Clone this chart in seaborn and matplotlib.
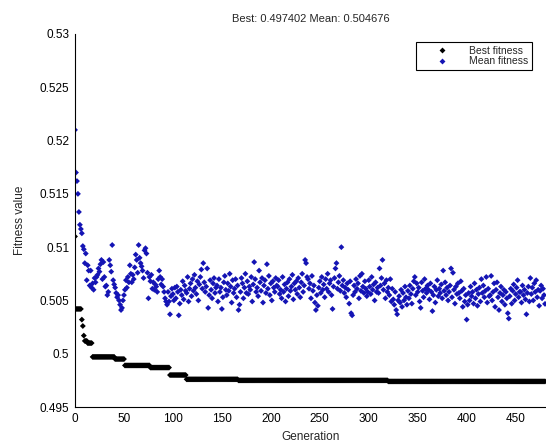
import numpy as np
import pandas as pd
import matplotlib
matplotlib.use("Agg")
import matplotlib.pyplot as plt
import seaborn as sns
from matplotlib.ticker import FuncFormatter

# ---- data ----
best_levels = [0.5110, 0.5042, 0.5032, 0.5026, 0.5017, 0.5012, 0.5010, 0.4997,
               0.4995, 0.4989, 0.4987, 0.4980, 0.4976, 0.4975, 0.497402]
best_runs = [1, 6, 1, 1, 1, 3, 5, 23, 10, 26, 20, 17, 53, 153, 161]

mean_fitness = [
    .5210, .5170, .5162, .5150, .5133, .5121, .5117, .5113, .5101, .5098,
    .5085, .5094, .5069, .5083, .5078, .5064, .5078, .5062, .5066, .5060, .5071,
    .5067, .5072, .5074, .5080, .5077, .5084, .5088, .5070, .5086, .5072,
    .5063, .5064, .5055, .5058, .5088, .5083, .5077, .5102, .5069, .5065,
    .5062, .5057, .5053, .5055, .5050, .5046, .5041, .5043, .5050, .5055, .5060,
    .5069, .5062, .5072, .5067, .5083, .5075, .5067, .5074, .5070, .5081,
    .5093, .5088, .5076, .5102, .5090, .5085, .5082, .5078, .5071, .5097,
    .5099, .5094, .5076, .5052, .5072, .5068, .5074, .5061, .5067, .5060, .5065,
    .5063, .5058, .5070, .5078, .5072, .5065, .5070, .5063, .5058, .5052,
    .5049, .5046, .5058, .5049, .5037, .5054, .5061, .5056, .5050, .5062,
    .5052, .5063, .5058, .5036, .5047, .5060, .5055, .5068, .5051, .5064, .5059,
    .5057, .5072, .5049, .5061, .5066, .5054, .5070, .5059, .5074, .5062,
    .5056, .5068, .5050, .5065, .5072, .5079, .5061, .5085, .5067, .5058,
    .5063, .5080, .5043, .5055, .5069, .5060, .5052, .5066, .5071, .5057, .5062,
    .5064, .5049, .5070, .5058, .5062, .5042, .5053, .5067, .5073, .5060,
    .5055, .5066, .5059, .5075, .5063, .5048, .5069, .5057, .5061, .5070,
    .5053, .5064, .5041, .5046, .5058, .5071, .5066, .5052, .5062, .5075, .5057,
    .5068, .5056, .5063, .5060, .5072, .5049, .5065, .5086, .5070, .5058,
    .5062, .5054, .5078, .5067, .5059, .5071, .5048, .5064, .5069, .5057,
    .5084, .5061, .5073, .5055, .5066, .5050, .5068, .5062, .5058, .5071, .5064,
    .5063, .5069, .5056, .5060, .5052, .5072, .5058, .5065, .5049, .5061,
    .5067, .5054, .5070, .5059, .5063, .5074, .5051, .5066, .5060, .5068,
    .5056, .5071, .5062, .5053, .5067, .5075, .5058, .5064, .5088, .5085, .5072,
    .5070, .5061, .5066, .5052, .5073, .5059, .5064, .5048, .5041, .5055,
    .5045, .5062, .5068, .5057, .5072, .5060, .5065, .5053, .5070, .5061,
    .5075, .5058, .5066, .5069, .5055, .5042, .5063, .5071, .5080, .5085, .5061,
    .5067, .5073, .5059, .5100, .5064, .5069, .5057, .5062, .5053, .5066,
    .5060, .5047, .5068, .5038, .5036, .5055, .5064, .5058, .5070, .5061,
    .5066, .5052, .5073, .5059, .5075, .5063, .5057, .5068, .5061, .5054, .5058,
    .5069, .5063, .5056, .5072, .5060, .5065, .5050, .5067, .5058, .5062,
    .5057, .5080, .5064, .5071, .5088, .5060, .5066, .5052, .5069, .5058,
    .5062, .5055, .5070, .5049, .5061, .5051, .5046, .5058, .5041, .5037, .5050,
    .5054, .5048, .5060, .5044, .5057, .5050, .5063, .5053, .5046, .5059,
    .5052, .5064, .5056, .5047, .5061, .5068, .5072, .5055, .5066, .5058,
    .5062, .5049, .5043, .5067, .5059, .5053, .5070, .5061, .5057, .5064, .5060,
    .5051, .5066, .5058, .5040, .5055, .5063, .5048, .5060, .5069, .5054,
    .5061, .5057, .5065, .5052, .5078, .5059, .5067, .5055, .5062, .5050,
    .5058, .5064, .5080, .5053, .5076, .5060, .5047, .5063, .5056, .5066, .5057,
    .5052, .5068, .5059, .5044, .5061, .5049, .5055, .5032, .5046, .5057,
    .5050, .5063, .5054, .5058, .5047, .5066, .5052, .5060, .5045, .5056,
    .5062, .5049, .5070, .5057, .5064, .5053, .5059, .5072, .5048, .5061, .5054,
    .5055, .5073, .5050, .5058, .5066, .5044, .5060, .5067, .5053, .5041,
    .5057, .5063, .5049, .5055, .5060, .5046, .5058, .5052, .5038, .5033,
    .5054, .5061, .5047, .5059, .5065, .5050, .5056, .5062, .5069, .5053, .5058,
    .5058, .5048, .5064, .5055, .5060, .5051, .5037, .5057, .5063, .5049,
    .5071, .5056, .5062, .5050, .5066, .5058, .5069, .5053, .5060, .5045,
    .5059, .5064, .5052, .5061, .5055, .504676,
]

x_ticks = [0, 50, 100, 150, 200, 250, 300, 350, 400, 450]
y_ticks = [0.495, 0.5, 0.505, 0.51, 0.515, 0.52, 0.525, 0.53]
series_names = ["Best fitness", "Mean fitness"]
title_text = "Best: 0.497402 Mean: 0.504676"

# ---- build table ----
n = len(mean_fitness)
generations = np.arange(n)
best_fitness = np.repeat(best_levels, best_runs)
df = pd.DataFrame({
    "Generation": np.concatenate([generations, generations]),
    "Fitness": np.concatenate([best_fitness, np.array(mean_fitness)]),
    "Series": [series_names[0]] * n + [series_names[1]] * n,
})

sns.set_style("white")
plt.rcParams["font.family"] = ["Liberation Sans", "DejaVu Sans"]

fig = plt.figure(figsize=(5.46, 4.42), dpi=100)
ax = fig.add_axes([75 / 546, 1 - 407 / 442, 471 / 546, 373 / 442])

sns.scatterplot(data=df, x="Generation", y="Fitness", hue="Series",
                palette={series_names[0]: "black", series_names[1]: "#1414b4"},
                marker="D", s=9, linewidth=0, ax=ax)

ax.set_xlim(0, n)
ax.set_ylim(0.495, 0.53)
ax.set_xticks(x_ticks)
ax.set_yticks(y_ticks)
ax.yaxis.set_major_formatter(FuncFormatter(lambda v, p: f"{v:g}"))
ax.tick_params(direction="in", length=4, width=0.8, labelsize=8.5,
               colors="black", top=False, right=False, pad=4)
for side in ["top", "right"]:
    ax.spines[side].set_visible(False)
for side in ["left", "bottom"]:
    ax.spines[side].set_color("black")
    ax.spines[side].set_linewidth(0.8)

ax.set_xlabel("Generation", fontsize=8.5, labelpad=5)
ax.set_ylabel("Fitness value", fontsize=8.5, labelpad=10)
ax.set_title(title_text, fontsize=8, pad=9)

handles, labels = ax.get_legend_handles_labels()
leg = ax.legend(handles, labels, loc="upper right", bbox_to_anchor=(0.970, 0.978),
                fontsize=7.5, frameon=True, fancybox=False, edgecolor="black",
                framealpha=1, borderpad=0.35, handletextpad=0.35, labelspacing=0.05,
                handlelength=4.4, markerscale=1.0, borderaxespad=0)
leg.get_frame().set_linewidth(0.8)

fig.savefig("out.png", dpi=100)
